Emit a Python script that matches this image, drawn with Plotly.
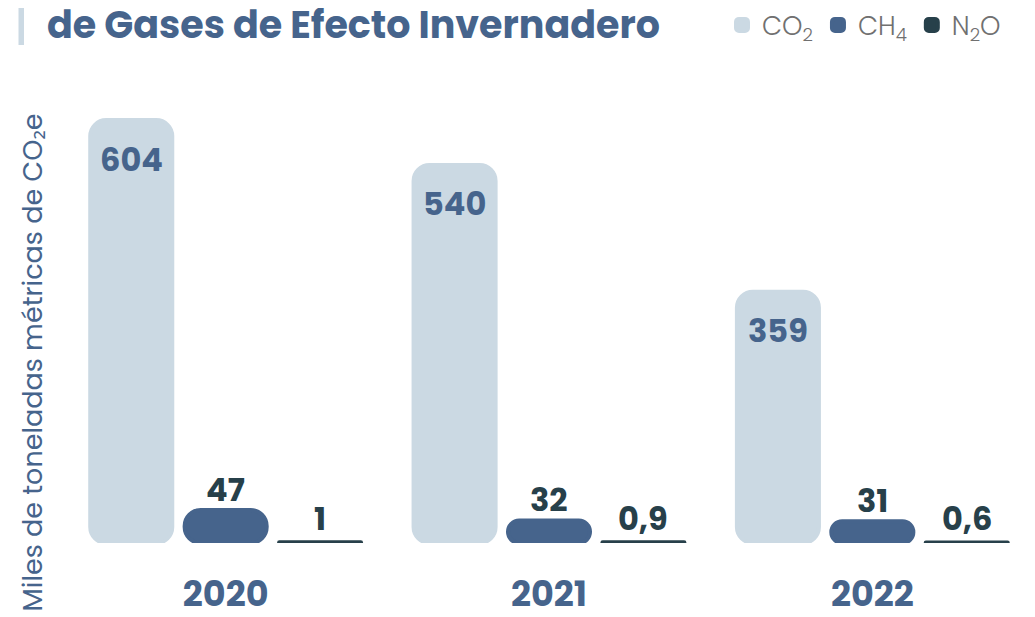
import plotly.graph_objects as go

# ---- data ----
years = ["2020", "2021", "2022"]
co2 = [604, 540, 359]
ch4 = [47, 32, 31]
n2o = [1, 0.9, 0.6]
co2_labels = ["604", "540", "359"]
ch4_labels = ["47", "32", "31"]
n2o_labels = ["1", "0,9", "0,6"]
series_names = ["CO<sub>2</sub>", "CH<sub>4</sub>", "N<sub>2</sub>O"]

title_text = "de Gases de Efecto Invernadero"
ytitle_text = "Miles de toneladas métricas de CO₂e"

# ---- style ----
C_LIGHT = "#CBD9E3"
C_BLUE = "#46648C"
C_DARK = "#27404A"
BOLD_FONT = "Poppins, Open Sans, sans-serif"
LIGHT_FONT = "Poppins, Open Sans, sans-serif"

OFF = 8  # page body margin of the browser
W, H = 1027, 609
ML, MR, MT, MB = 56, 1, 68, 74
PW, PH = W - ML - MR, H - MT - MB
YMAX = 667
BARGAP = 0.124
GROUPGAP = 0.131
RADIUS = 16
EDGE = 4


def sx(p):
    """screen x pixel -> paper x"""
    return (p - OFF - ML) / PW


def sy(p):
    """screen y pixel -> paper y"""
    return (H - MB - (p - OFF)) / PH


fig = go.Figure()

series = [
    (co2, series_names[0], C_LIGHT),
    (ch4, series_names[1], C_BLUE),
    (n2o, series_names[2], C_DARK),
]

for k, (vals, name, color) in enumerate(series):
    fig.add_trace(go.Bar(
        x=years, y=vals, base=[0] * len(vals),
        name=name, offsetgroup=str(k),
        marker=dict(color=color, cornerradius=RADIUS, line=dict(width=EDGE, color=color)),
        hoverinfo="skip",
    ))

slot = (1 - BARGAP) / 3
label_specs = [
    (co2, co2_labels, C_BLUE, -39),
    (ch4, ch4_labels, C_DARK, 21),
    (n2o, n2o_labels, C_DARK, 24),
]
for k, (vals, labels, color, shift) in enumerate(label_specs):
    for i in range(len(years)):
        fig.add_annotation(
            x=i + (k - 1) * slot, y=vals[i], xref="x", yref="y",
            text=labels[i], showarrow=False, yanchor="middle", yshift=shift,
            font=dict(family=BOLD_FONT, size=32, color=color, weight=700),
        )

# title (partial, as in reference)
fig.add_annotation(
    xref="paper", yref="paper", x=sx(45), y=sy(24), xanchor="left", yanchor="middle",
    text=title_text, showarrow=False,
    font=dict(family=BOLD_FONT, size=38, color=C_BLUE, weight=700),
)
# y-axis title
fig.add_annotation(
    xref="paper", yref="paper", x=sx(31.5), y=sy(363), xanchor="center", yanchor="middle",
    text=ytitle_text, textangle=-90, showarrow=False,
    font=dict(family=LIGHT_FONT, size=27, color=C_BLUE),
)
# decorative accent bar
fig.add_shape(
    type="rect", xref="paper", yref="paper",
    x0=sx(18.5), x1=sx(24), y0=sy(45), y1=sy(-10),
    fillcolor=C_LIGHT, line=dict(width=0), layer="above",
)

fig.update_layout(
    width=W, height=H,
    margin=dict(l=ML, r=MR, t=MT, b=MB, autoexpand=False),
    barmode="group", bargap=BARGAP, bargroupgap=GROUPGAP,
    plot_bgcolor="white", paper_bgcolor="white",
    showlegend=True,
    legend=dict(
        orientation="h", x=sx(722), xanchor="left", y=sy(25), yanchor="middle",
        font=dict(family=LIGHT_FONT, size=26, color="#707070", weight=300),
        bgcolor="rgba(0,0,0,0)", traceorder="normal",
    ),
    xaxis=dict(
        type="category", range=[-0.5, 2.5], showgrid=False, zeroline=False,
        showline=False, ticks="", ticklabelstandoff=27,
        tickfont=dict(family=BOLD_FONT, size=35, color=C_BLUE, weight=700),
    ),
    yaxis=dict(
        range=[0, YMAX], showgrid=False, zeroline=False, showline=False,
        showticklabels=False, ticks="",
    ),
)

fig.write_html("out.html")
